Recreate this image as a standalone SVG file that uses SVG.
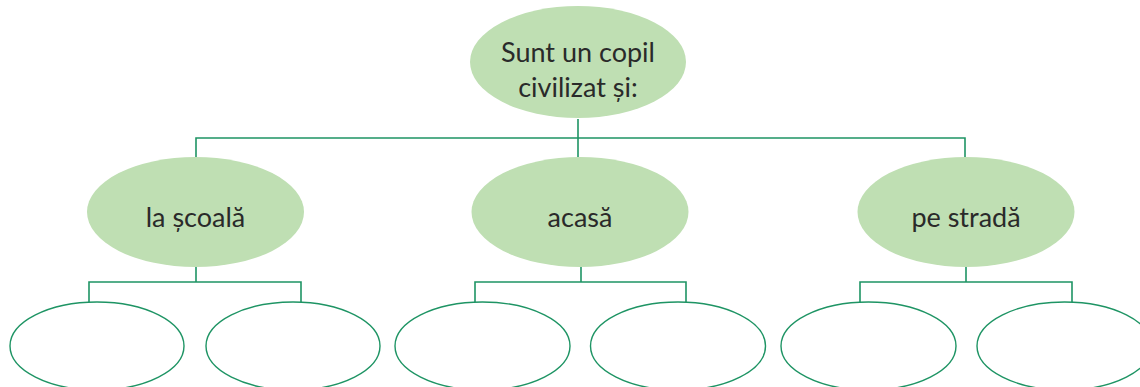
<svg xmlns="http://www.w3.org/2000/svg" width="1140" height="387" viewBox="0 0 1140 387">
<style>
.main{fill:#bfdfb3;stroke:none}
.empty{fill:#ffffff;stroke:#1e9464;stroke-width:1.4}
.conn{fill:none;stroke:#1e9464;stroke-width:1.6}
text{font-family:Lato,"Noto Sans",sans-serif;font-size:27px;fill:#2a2a2a;text-anchor:middle}
</style>
<rect width="1140" height="387" fill="#ffffff"/>
<g id="connectors">
<path class="conn" d="M578,119 V157 M196,157 V138 H965 V157"/>
<path class="conn" d="M196,267 V282 M89,302 V282 H301 V302"/>
<path class="conn" d="M581,267 V282 M475,302 V282 H686 V302"/>
<path class="conn" d="M966,267 V282 M860,302 V282 H1072 V302"/>
</g>
<g id="root">
<ellipse class="main" cx="578" cy="62" rx="108" ry="56"/>
<text x="578" y="62">Sunt un copil</text>
<text x="578" y="97">civilizat și:</text>
</g>
<g id="scoala">
<ellipse class="main" cx="195.5" cy="212" rx="108.5" ry="55"/>
<text x="195.5" y="227">la școală</text>
</g>
<g id="acasa">
<ellipse class="main" cx="580" cy="212" rx="108.5" ry="55"/>
<text x="580" y="227">acasă</text>
</g>
<g id="strada">
<ellipse class="main" cx="966" cy="212" rx="108.5" ry="55"/>
<text x="966" y="227">pe stradă</text>
</g>
<g id="e1"><ellipse class="empty" cx="97" cy="346" rx="87" ry="44"/></g>
<g id="e2"><ellipse class="empty" cx="293" cy="346" rx="87" ry="44"/></g>
<g id="e3"><ellipse class="empty" cx="482.5" cy="346" rx="87.5" ry="44"/></g>
<g id="e4"><ellipse class="empty" cx="678" cy="346" rx="87.5" ry="44"/></g>
<g id="e5"><ellipse class="empty" cx="868.5" cy="346" rx="87.5" ry="44"/></g>
<g id="e6"><ellipse class="empty" cx="1064.5" cy="346" rx="87.5" ry="44"/></g>
</svg>
